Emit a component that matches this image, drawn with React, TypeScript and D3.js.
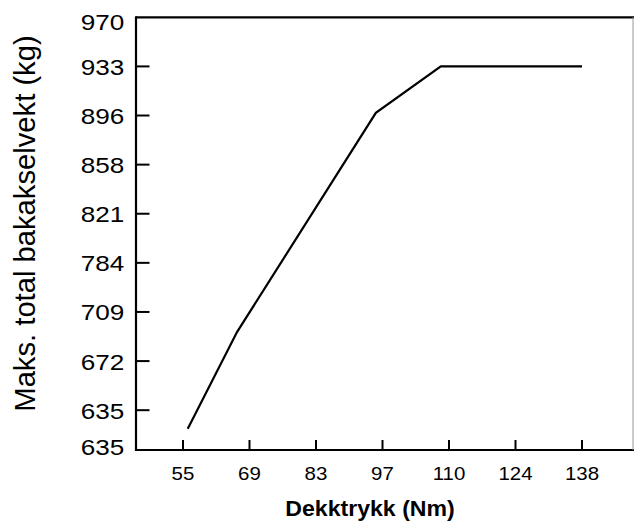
import React from "react";
import * as d3 from "d3";

const xTicks = [55, 69, 83, 97, 110, 124, 138];
const yTicks = [635, 672, 709, 784, 821, 858, 896, 933, 970];
const yBottomValue = 605;
const yBottomLabel = "635";

const pressure = [56, 66.4, 95.6, 108.4, 138];
const maxLoad = [621, 694, 898, 933, 933];

const W = 634;
const H = 521;
const left = 136;
const right = 633.5;
const top = 17.3;
const bottom = 450;

const font = "'Liberation Sans', Arial, Helvetica, sans-serif";

export default function App() {
  const xi = d3.scaleLinear().domain([0, xTicks.length - 1]).range([183, 582]);
  const x = d3
    .scaleLinear()
    .domain(xTicks)
    .range(xTicks.map((_, i) => xi(i)));

  const step = yTicks[1] - yTicks[0];
  const bottomIdx = -(yTicks[0] - yBottomValue) / step;
  const yi = d3.scaleLinear().domain([bottomIdx, yTicks.length - 1]).range([bottom, top]);
  const y = d3
    .scaleLinear()
    .domain([yBottomValue, ...yTicks])
    .range([yi(bottomIdx), ...yTicks.map((_, i) => yi(i))]);

  const pts = pressure.map((p, i) => [p, maxLoad[i]] as [number, number]);
  const line = d3
    .line<[number, number]>()
    .x((d) => x(d[0]))
    .y((d) => y(d[1]));

  const yLabels = [
    { label: yBottomLabel, pos: y(yBottomValue), dy: 5, tick: false },
    ...yTicks.map((v, i) => ({
      label: String(v),
      pos: yi(i),
      dy: i === yTicks.length - 1 ? 12.7 : 8.5,
      tick: i !== yTicks.length - 1,
    })),
  ];

  return (
    <svg
      width={W}
      height={H}
      style={{ position: "absolute", left: 0, top: 0, background: "#fff" }}
    >
      <rect x={0} y={0} width={W} height={H} fill="#fff" />
      {/* frame */}
      <line x1={left} x2={W} y1={top} y2={top} stroke="#000" strokeWidth={2.2} />
      <line x1={left} x2={W} y1={bottom} y2={bottom} stroke="#000" strokeWidth={2.2} />
      <line x1={left} x2={left} y1={top - 1.1} y2={bottom + 1.1} stroke="#000" strokeWidth={2.2} />
      <line x1={right - 0.5} x2={right - 0.5} y1={top} y2={bottom} stroke="#999" strokeWidth={1} />

      {/* y ticks */}
      {yLabels.map((t, i) => (
        <g key={"y" + i}>
          {t.tick && (
            <line x1={left} x2={left + 13.5} y1={t.pos} y2={t.pos} stroke="#000" strokeWidth={2} />
          )}
          <text
            transform={`translate(124.3,${t.pos + t.dy}) scale(1.22,1)`}
            textAnchor="end"
            fontFamily={font}
            fontSize={21.4}
            fill="#000"
          >
            {t.label}
          </text>
        </g>
      ))}

      {/* x ticks */}
      {xTicks.map((v, i) => (
        <g key={"x" + i}>
          <line x1={x(v)} x2={x(v)} y1={bottom} y2={bottom - 10} stroke="#000" strokeWidth={2} />
          <text
            transform={`translate(${x(v)},480) scale(1.1,1)`}
            textAnchor="middle"
            fontFamily={font}
            fontSize={18.6}
            fill="#000"
          >
            {v}
          </text>
        </g>
      ))}

      {/* data line */}
      <path d={line(pts) || ""} fill="none" stroke="#000" strokeWidth={2.2} strokeLinejoin="miter" />

      {/* axis titles */}
      <text
        transform="translate(370,516) scale(1.08,1)"
        textAnchor="middle"
        fontFamily={font}
        fontSize={21.4}
        fontWeight="bold"
        fill="#000"
      >
        Dekktrykk (Nm)
      </text>
      <text
        transform="translate(35,223.5) rotate(-90)"
        textAnchor="middle"
        fontFamily={font}
        fontSize={29.2}
        fill="#000"
      >
        Maks. total bakakselvekt (kg)
      </text>
    </svg>
  );
}
